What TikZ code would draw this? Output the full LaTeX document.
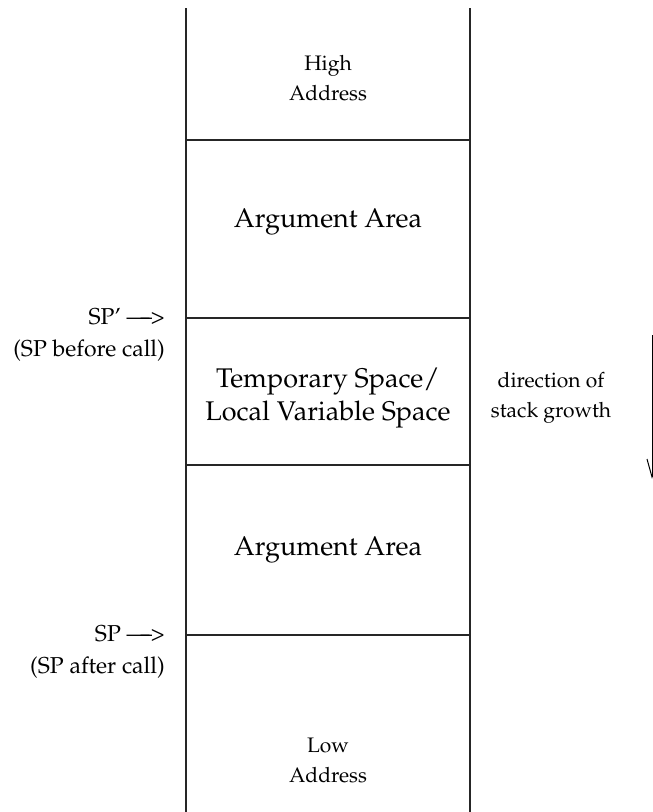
\documentclass[tikz,border=0pt]{standalone}
\usepackage[T1]{fontenc}
\renewcommand{\rmdefault}{ppl}
\usetikzlibrary{calc}
\begin{document}
\begin{tikzpicture}[x=1pt,y=-1pt,
  frame/.style={line width=1.3pt, black!85},
  small/.style={font=\fontsize{21}{30}\selectfont, align=center, inner sep=0pt},
  big/.style={font=\fontsize{27}{33}\selectfont, align=center, inner sep=0pt},
  side/.style={font=\fontsize{23}{32}\selectfont, align=right, inner sep=0pt, anchor=east},
]
\useasboundingbox (0,0) rectangle (653,812);
\clip (0,0) rectangle (653,812);

% column edges and frame boundaries
\coordinate (tl) at (186,8);   \coordinate (tr) at (470,8);
\coordinate (bl) at (186,812); \coordinate (br) at (470,812);
\coordinate (l1) at (186,140); \coordinate (r1) at (470,140);
\coordinate (l2) at (186,318); \coordinate (r2) at (470,318);
\coordinate (l3) at (186,465); \coordinate (r3) at (470,465);
\coordinate (l4) at (186,635); \coordinate (r4) at (470,635);

\draw[frame] (tl) -- (bl);
\draw[frame] (tr) -- (br);
\draw[frame] (l1) -- (r1);
\draw[frame] (l2) -- (r2);
\draw[frame] (l3) -- (r3);
\draw[frame] (l4) -- (r4);

% frame contents
\node[small] (high) at (328,78) {High\\Address};
\node[big] (arg1) at (328,222) {Argument Area};
\node[big] (temp) at (328,398) {Temporary Space/\\Local Variable Space};
\node[big] (arg2) at (328,550) {Argument Area};
\node[small] (low) at (328,760) {Low\\Address};

% stack pointer labels
\node[side] (spp) at (165,335) {SP' ---\kern-0.4em--\kern-0.05em>\\(SP before call)};
\node[side] (sp) at (165,652) {SP ---\kern-0.4em--\kern-0.05em>\\(SP after call)};

% growth direction
\node[small] (dir) at (551,398) {direction of\\stack growth};
\coordinate (gtop) at (652,335);
\coordinate (gbot) at (652,477);
\draw[line width=1pt] (gtop) -- (gbot);
\draw[line width=1pt] ($(gbot)+(-5,-18)$) -- (gbot) -- ($(gbot)+(5,-18)$);
\end{tikzpicture}
\end{document}
